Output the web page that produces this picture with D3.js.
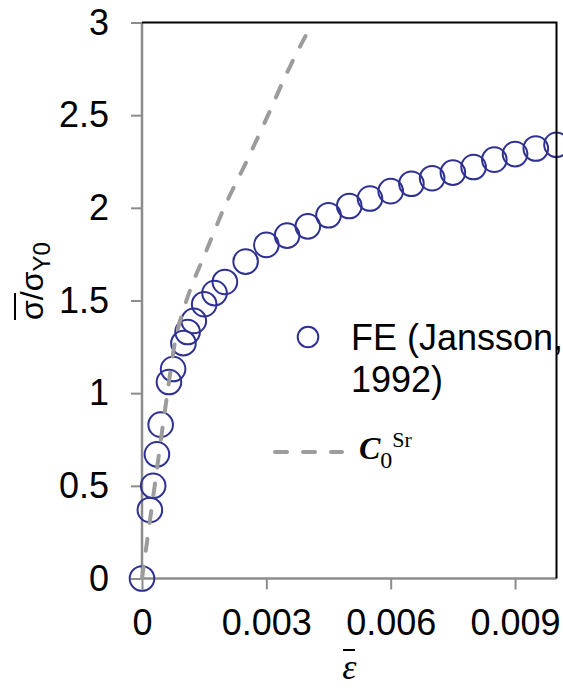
<!DOCTYPE html>
<html><head><meta charset="utf-8">
<script src="https://cdn.jsdelivr.net/npm/d3@7/dist/d3.min.js"></script>
<style>
html,body{margin:0;padding:0;background:#fff;}
svg{display:block;}
</style></head>
<body>
<svg id="c" width="563" height="688"></svg>
<script>
// ---- data ----
const feStrain = [0, 0.00019, 0.00027, 0.00036, 0.00045, 0.00065, 0.00075, 0.0010, 0.0011, 0.00125, 0.0015, 0.00175, 0.0020, 0.0025, 0.0030, 0.0035, 0.0040, 0.0045, 0.0050, 0.0055, 0.0060, 0.0065, 0.0070, 0.0075, 0.0080, 0.0085, 0.0090, 0.0095, 0.0100];
const feStress = [0, 0.37, 0.50, 0.67, 0.83, 1.06, 1.13, 1.27, 1.33, 1.39, 1.48, 1.54, 1.60, 1.71, 1.80, 1.85, 1.90, 1.96, 2.01, 2.05, 2.09, 2.13, 2.16, 2.19, 2.22, 2.26, 2.29, 2.32, 2.34];
const c0Strain = [0, 0.0003, 0.0006, 0.0008, 0.0010, 0.0012, 0.0015, 0.0020, 0.0025, 0.0030, 0.0035, 0.0040, 0.00412];
const c0Stress = [0, 0.49, 0.98, 1.28, 1.45, 1.58, 1.74, 2.01, 2.24, 2.48, 2.73, 2.95, 3.0];
const xTicks = [0, 0.003, 0.006, 0.009];
const xTickLabels = ["0", "0.003", "0.006", "0.009"];
const yTicks = [0, 0.5, 1, 1.5, 2, 2.5, 3];
const yTickLabels = ["0", "0.5", "1", "1.5", "2", "2.5", "3"];
const legendLabels = ["FE (Jansson,", "1992)"];

// ---- layout ----
const L = 142, R = 556.5, T = 22.5, B = 578.5;
const x = d3.scaleLinear().domain([0, 0.01]).range([L, R]);
const y = d3.scaleLinear().domain([0, 3]).range([B, T]);
const svg = d3.select("#c");
const sans = "'Liberation Sans', Arial, sans-serif";
const serif = "'Liberation Serif', 'Times New Roman', serif";
const blue = "#2E3192", grayDash = "#9C9C9C", axisGray = "#8C8C8C";

// axes
const yAxis = svg.append("g").attr("transform", `translate(${L},0)`)
  .call(d3.axisLeft(y).tickValues(yTicks).tickFormat((d,i)=>yTickLabels[i]).tickSize(11).tickPadding(22));
const xAxis = svg.append("g").attr("transform", `translate(0,${B})`)
  .call(d3.axisBottom(x).tickValues(xTicks).tickFormat((d,i)=>xTickLabels[i]).tickSize(11).tickPadding(20));
[yAxis, xAxis].forEach(g => {
  g.select(".domain").attr("stroke", axisGray).attr("stroke-width", 2.5);
  g.selectAll(".tick line").attr("stroke", axisGray).attr("stroke-width", 2);
  g.selectAll(".tick text").attr("fill", "#000").style("font-family", sans).style("font-size", "36px");
});
yAxis.select(".domain").attr("d", `M0,${B}V${T}`);
xAxis.select(".domain").attr("d", `M${L},0H${R}`);
xAxis.selectAll(".tick text").attr("dy", "0.71em");

// data points
const fe = feStrain.map((e,i)=>({e, s: feStress[i]}));
svg.append("g").selectAll("circle").data(fe).join("circle")
  .attr("cx", d=>x(d.e)).attr("cy", d=>y(d.s)).attr("r", 12.3)
  .attr("fill", "none").attr("stroke", blue).attr("stroke-width", 2);

// C0 curve
const c0 = c0Strain.map((e,i)=>({e, s: c0Stress[i]}));
svg.append("path").datum(c0)
  .attr("d", d3.line().x(d=>x(d.e)).y(d=>y(d.s)).curve(d3.curveMonotoneX))
  .attr("fill", "none").attr("stroke", grayDash).attr("stroke-width", 4)
  .attr("stroke-dasharray", "12,16").attr("stroke-linecap", "round");

// legend
svg.append("circle").attr("cx", 308).attr("cy", 337).attr("r", 10.3)
  .attr("fill", "none").attr("stroke", blue).attr("stroke-width", 2);
svg.append("g").selectAll("text").data(legendLabels).join("text")
  .attr("x", 351).attr("y", (d,i)=>350 + i*42)
  .style("font-family", sans).style("font-size", "36px").attr("fill", "#000").text(d=>d);
svg.append("line").attr("x1", 275).attr("x2", 342).attr("y1", 452).attr("y2", 452)
  .attr("stroke", grayDash).attr("stroke-width", 4).attr("stroke-dasharray", "12,16").attr("stroke-linecap", "round");
const lg = svg.append("text").attr("x", 359).attr("y", 459).style("font-family", serif).attr("fill", "#000");
lg.append("tspan").text("C").style("font-size", "32px").style("font-weight", "bold").style("font-style", "italic");
lg.append("tspan").text("0").style("font-size", "24px").attr("dy", 9);
lg.append("tspan").text("Sr").style("font-size", "22px").attr("dy", -21);

// frame (top & right)
svg.append("path").attr("d", `M${L},${T}H${R}V${B}`).attr("fill", "none").attr("stroke", "#000").attr("stroke-width", 2);

// x label: epsilon with bar
svg.append("text").attr("x", (L+R)/2).attr("y", 679).attr("text-anchor", "middle")
  .style("font-family", serif).style("font-style", "italic").style("font-size", "36px").attr("fill", "#000").text("ε");
svg.append("line").attr("x1", 343).attr("x2", 355).attr("y1", 650).attr("y2", 650).attr("stroke", "#000").attr("stroke-width", 2);

// y label
const yg = svg.append("g").attr("transform", "translate(43,281) rotate(-90)");
const yt = yg.append("text").attr("text-anchor", "middle").style("font-family", sans).style("font-size", "32px").attr("fill", "#000");
yt.append("tspan").text("σ");
yt.append("tspan").text("/σ");
yt.append("tspan").text("Y0").style("font-size", "24px").attr("dy", 7);
const n = yt.node();
const e0 = n.getExtentOfChar(0), e1 = n.getExtentOfChar(1);
yg.append("line").attr("x1", e0.x).attr("x2", e1.x + e1.width*0.8).attr("y1", -28).attr("y2", -28)
  .attr("stroke", "#000").attr("stroke-width", 2);
</script>
</body></html>
